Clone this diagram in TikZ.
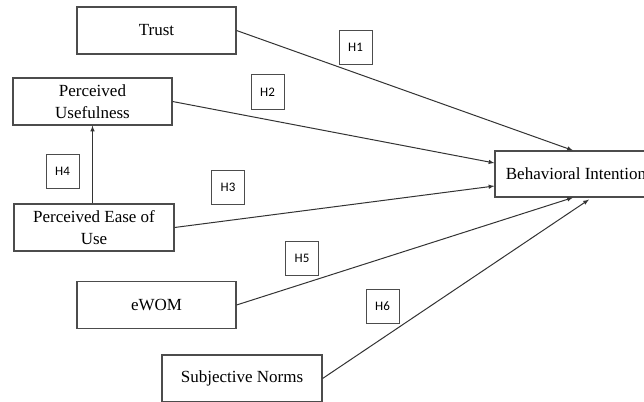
\documentclass[tikz,border=0pt]{standalone}
\usepackage{fontspec}
\setmainfont{Liberation Serif}
\newfontfamily\hfont{Carlito}
\usetikzlibrary{shapes,arrows,positioning}
\tikzstyle{vbox} = [rectangle, draw=black!70, line width=1.1pt, minimum width=159pt, minimum height=47pt, inner sep=0pt, align=center, font=\fontsize{17pt}{22pt}\selectfont]
\tikzstyle{hbox} = [rectangle, draw=black!70, line width=1pt, minimum width=33pt, minimum height=34pt, inner sep=0pt, font=\hfont\fontsize{13pt}{15pt}\selectfont]
\tikzstyle{line} = [draw, black!80, line width=1pt, -latex]

\begin{document}
\begin{tikzpicture}[x=1pt, y=-1pt]
			\useasboundingbox (0,0) rectangle (644,401);
			\node [vbox] (trust) at (156.5,30.5) {Trust};
			\node [vbox] (pu) at (92.5,101.5) {Perceived\\Usefulness};
			\node [vbox, minimum width=160pt] (peou) at (94,227.5) {Perceived Ease of\\Use};
			\node [vbox] (ewom) at (156.5,305) {eWOM};
			\node [vbox, minimum width=160pt] (sn) at (242,378.5) {Subjective Norms};
			\node [vbox, minimum width=162pt, minimum height=46pt] (bi) at (576,174) {Behavioral Intention};
			
			\node [hbox] (h1) at (355.5,47.5) {H1};
			\node [hbox] (h2) at (267.5,92) {H2};
			\node [hbox] (h3) at (228,187) {H3};
			\node [hbox] (h4) at (62.5,171) {H4};
			\node [hbox] (h5) at (302,258.5) {H5};
			\node [hbox] (h6) at (382.5,306) {H6};
			
			\path [line] (trust.east) -- ([xshift=-3pt]bi.north);
			\path [line] (pu.east) -- ([yshift=11pt]bi.west);
			\path [line] (peou.east) -- ([yshift=-12pt]bi.west);
			\path [line] (ewom.east) -- ([xshift=-3pt]bi.south);
			\path [line] (sn.east) -- ([xshift=13pt,yshift=-2pt]bi.south);
			\path [line] (pu.south |- peou.north) -- (pu.south);
		\end{tikzpicture}
\end{document}
